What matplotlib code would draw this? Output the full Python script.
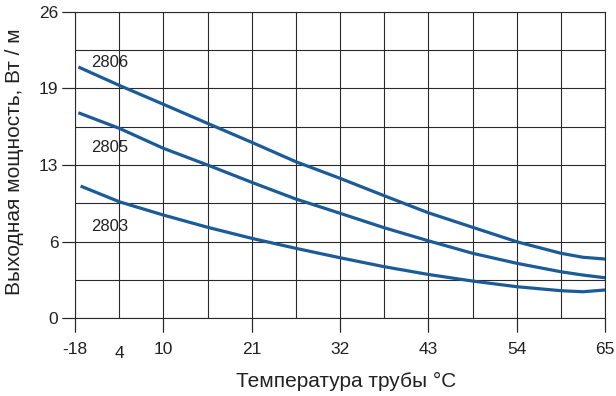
"""
Выходная мощность греющего кабеля в зависимости от температуры трубы.
Сохраняет график в out.png.
"""

import matplotlib

matplotlib.use("Agg")
import matplotlib.pyplot as plt
from matplotlib.ticker import MultipleLocator, FixedLocator, FixedFormatter, FuncFormatter

plt.rcParams["font.family"] = ["Liberation Sans", "DejaVu Sans"]
plt.rcParams["axes.linewidth"] = 0.8
plt.rcParams["axes.edgecolor"] = "#2a2a2a"

# ось X хранится в °F (шаг сетки 10 °F), подписи - в °C
temp_f = [31.1, 40, 50, 60, 70, 80, 90, 100, 110, 120, 130, 140, 145, 150]
power_2806 = [21.27, 19.77, 18.16, 16.54, 14.93, 13.28, 11.87, 10.39, 8.94, 7.71, 6.48, 5.50, 5.16, 5.01]
power_2805 = [17.39, 16.12, 14.42, 13.0, 11.53, 10.11, 8.90, 7.67, 6.56, 5.50, 4.65, 3.93, 3.65, 3.42]
power_2803 = [11.16, 9.88, 8.75, 7.71, 6.77, 5.92, 5.12, 4.36, 3.70, 3.14, 2.66, 2.32, 2.23, 2.38]

x_tick_pos = [30, 50, 70, 90, 110, 130, 150]
x_tick_labels = ["-18", "10", "21", "32", "43", "54", "65"]
extra_tick_pos = 40
extra_tick_label = "4"
y_tick_pos = [0, 6.5, 13, 19.5, 26]
y_tick_labels = ["0", "6", "13", "19", "26"]

series = [("2806", power_2806, 21.75), ("2805", power_2805, 14.45), ("2803", power_2803, 7.8)]

line_color = "#1b5b98"
grid_color = "#2a2a2a"
text_color = "#222222"

fig = plt.figure(figsize=(6.16, 3.96), dpi=100)
ax = fig.add_axes([75 / 616, 1 - 318 / 396, 530 / 616, 306 / 396])
ax.set_xlim(30, 150)
ax.set_ylim(0, 26)

# основные деления с подписями
ax.xaxis.set_major_locator(FixedLocator(x_tick_pos))
ax.xaxis.set_major_formatter(FixedFormatter(x_tick_labels))
ax.yaxis.set_major_locator(FixedLocator(y_tick_pos))
ax.yaxis.set_major_formatter(FixedFormatter(y_tick_labels))
ax.tick_params(axis="x", which="major", length=10, width=0.8, pad=7, labelsize=12.5,
               color=grid_color, labelcolor=text_color)
ax.tick_params(axis="y", which="major", length=9.4, width=0.8, pad=2.6, labelsize=12.5,
               color=grid_color, labelcolor=text_color)

# сетка через второстепенные деления (без засечек)
ax.xaxis.set_minor_locator(MultipleLocator(10))
ax.yaxis.set_minor_locator(MultipleLocator(3.25))
ax.xaxis.set_minor_formatter(FuncFormatter(lambda v, p: extra_tick_label if round(v) == extra_tick_pos else ""))
ax.yaxis.set_minor_formatter(FuncFormatter(lambda v, p: ""))
ax.tick_params(axis="x", which="minor", length=0, pad=20, labelsize=12.5, labelcolor=text_color)
ax.tick_params(axis="y", which="minor", length=0)
ax.grid(True, which="both", color=grid_color, lw=0.8)
ax.set_axisbelow(False)

# засечки у подписанных делений рисуем явно
ax.vlines(x_tick_pos, -14 / 306, 0, transform=ax.get_xaxis_transform(),
          colors=grid_color, lw=0.8, clip_on=False)
ax.hlines(y_tick_pos, -13 / 530, 0, transform=ax.get_yaxis_transform(),
          colors=grid_color, lw=0.8, clip_on=False)

for name, vals, label_y in series:
    x0 = temp_f[0] + 0.5 if name == "2803" else temp_f[0]
    ax.plot([x0] + temp_f[1:], vals, color=line_color, lw=2.3, solid_joinstyle="round", zorder=3)
    ax.text(33.7, label_y, name, fontsize=12, va="center", ha="left", color=text_color)

fig.text(15 / 616, 1 - 162 / 396, "Выходная мощность, Вт / м", rotation=90,
         ha="center", va="center", fontsize=15, color=text_color)
fig.text(346 / 616, 1 - 381 / 396, "Температура трубы °C",
         ha="center", va="center", fontsize=15, color=text_color)

fig.savefig("out.png", dpi=100)
plt.close(fig)
